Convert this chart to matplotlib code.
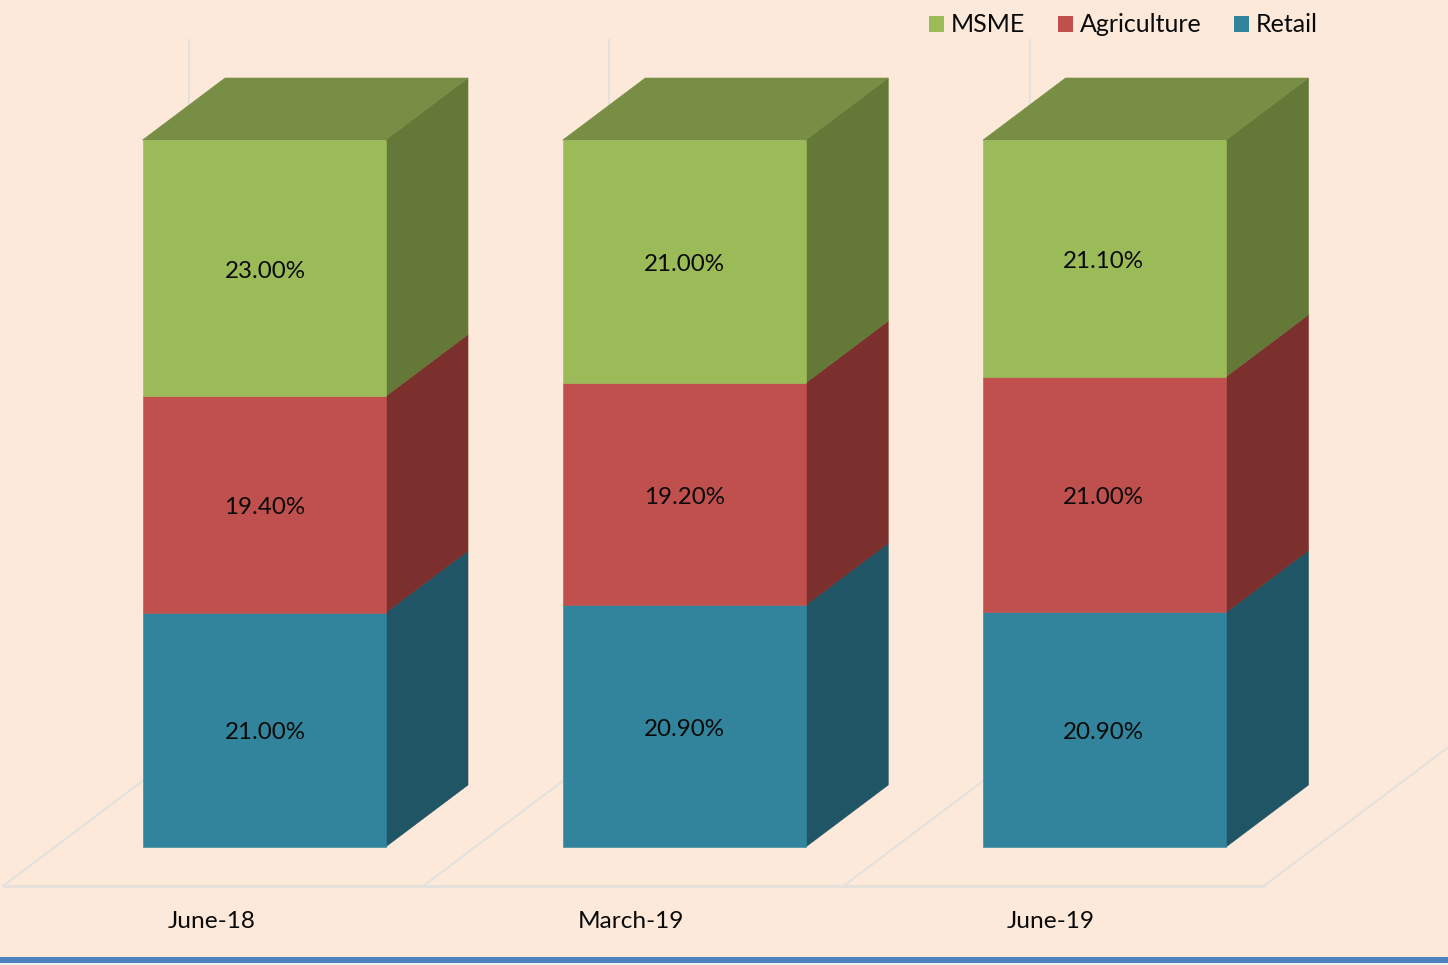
"""Stacked 100% pseudo-3D columns: Retail, Agriculture and MSME per quarter."""
import matplotlib

matplotlib.use("Agg")
import matplotlib.pyplot as plt
import numpy as np
from matplotlib.patches import Patch, Polygon, Rectangle

plt.rcParams["font.family"] = ["Lato", "DejaVu Sans"]

periods = ["June-18", "March-19", "June-19"]
retail = [21.00, 20.90, 20.90]
agriculture = [19.40, 19.20, 21.00]
msme = [23.00, 21.00, 21.10]

series_names = ["Retail", "Agriculture", "MSME"]
front_colors = ["#31849B", "#C0504D", "#9BBB59"]
side_colors = ["#1F5564", "#7B302E", "#647838"]
top_color = "#778E44"
bg = "#FDE9DA"
grid_color = "#E4E1DC"

W, H = 1448, 965
PX_PER_CAT = 420.25
PX_PER_PCT = 7.07
X0_PX, Y0_PX = 264.0, 847.0  # where category 0 / 0% sit in the picture

bar_w = 243 / PX_PER_CAT
depth_x = 82.5 / PX_PER_CAT
depth_y = 62 / PX_PER_PCT
floor_x = 186 / PX_PER_CAT
floor_y = 140 / PX_PER_PCT
floor_front = -39 / PX_PER_PCT
wall_top = 807 / PX_PER_PCT
floor_left = -261 / PX_PER_CAT

fig = plt.figure(figsize=(W / 100, H / 100), dpi=100, facecolor=bg)
ax = fig.add_axes([0, 0, 1, 1])
ax.set_xlim(-X0_PX / PX_PER_CAT, (W - X0_PX) / PX_PER_CAT)
ax.set_ylim((Y0_PX - H) / PX_PER_PCT, Y0_PX / PX_PER_PCT)
ax.axis("off")

# floor and back wall furniture, behind the columns
n = len(periods)
ax.plot([floor_left, floor_left + n], [floor_front, floor_front],
        color=grid_color, lw=2.0, zorder=1, solid_capstyle="butt")
for i in range(n + 1):
    bx = floor_left + i
    ax.plot([bx, bx + floor_x], [floor_front, floor_front + floor_y],
            color=grid_color, lw=1.5, zorder=1)
    ax.plot([bx + floor_x, bx + floor_x], [floor_front + floor_y, wall_top],
            color=grid_color, lw=1.6, zorder=1)

values = np.array([retail, agriculture, msme], dtype=float)
shares = values / values.sum(axis=0) * 100

for i in range(n):
    x0, x1 = i - bar_w / 2, i + bar_w / 2
    base = 0.0
    for j in range(len(series_names)):
        top = base + shares[j, i]
        ax.add_patch(Polygon(
            [(x1, base), (x1, top), (x1 + depth_x, top + depth_y), (x1 + depth_x, base + depth_y)],
            facecolor=side_colors[j], edgecolor=side_colors[j], lw=0.4, zorder=2))
        ax.bar(i, shares[j, i], bar_w, bottom=base, color=front_colors[j],
               edgecolor=front_colors[j], lw=0.4, zorder=3)
        # the source's labels sit a touch low and drift left across the chart
        ax.text(i + (1 - i) / PX_PER_CAT, base + shares[j, i] / 2 - 3 / PX_PER_PCT,
                f"{values[j, i]:.2f}%", ha="center", va="center", fontsize=17.4,
                color="#0A0A0A", zorder=5)
        base = top
    ax.add_patch(Polygon(
        [(x0, base), (x1, base), (x1 + depth_x, base + depth_y), (x0 + depth_x, base + depth_y)],
        facecolor=top_color, edgecolor=top_color, lw=0.4, zorder=3))
    ax.text(i - (52 + i) / PX_PER_CAT, -74 / PX_PER_PCT, periods[i], ha="center", va="center",
            fontsize=17.6, color="#0A0A0A")

handles = [Patch(facecolor=front_colors[j], label=series_names[j]) for j in (2, 1, 0)]
fig.legend(handles=handles, loc="center right", bbox_to_anchor=(1318 / W, 1 - 25 / H),
           ncol=3, frameon=False, fontsize=18, handlelength=0.6, handleheight=0.6,
           handletextpad=0.28, columnspacing=1.3, borderpad=0, borderaxespad=0,
           labelcolor="#0A0A0A")

# blue rule along the bottom of the slide
fig.add_artist(Rectangle((0, 0), 1, 2 / H, transform=fig.transFigure, facecolor="#F2F2F2", lw=0))
fig.add_artist(Rectangle((0, 2 / H), 1, 6 / H, transform=fig.transFigure, facecolor="#4F81BD", lw=0))

fig.savefig("out.png", dpi=100, facecolor=bg)
